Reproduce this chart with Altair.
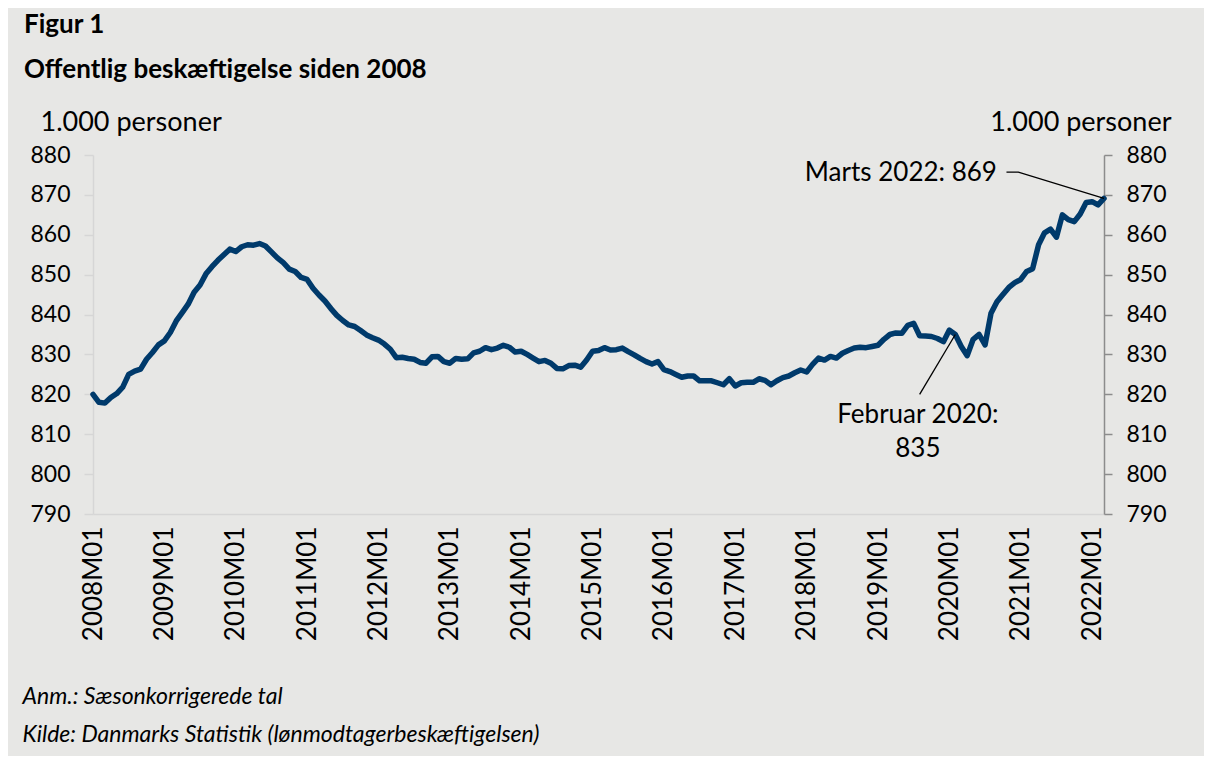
import json
import altair as alt
import pandas as pd

# ---- data (1.000 personer, seasonally adjusted, 2008M01 .. 2022M03) ----
values = [
    820.0, 818.0, 817.8, 819.2, 820.2, 821.8, 825.0, 825.8, 826.3, 828.8, 830.5, 832.4,  # 2008
    833.4, 835.5, 838.4, 840.5, 842.6, 845.6, 847.4, 850.2, 852.0, 853.6, 855.0, 856.4,  # 2009
    855.8, 857.0, 857.5, 857.4, 857.8, 857.2, 855.7, 854.2, 853.0, 851.4, 850.8, 849.3,  # 2010
    848.8, 846.6, 844.9, 843.4, 841.5, 839.8, 838.5, 837.4, 837.0, 836.0, 834.9, 834.2,  # 2011
    833.6, 832.6, 831.3, 829.2, 829.3, 829.0, 828.8, 828.0, 827.8, 829.4, 829.5, 828.2,  # 2012
    827.8, 829.0, 828.8, 828.9, 830.4, 830.8, 831.7, 831.2, 831.6, 832.3, 831.8, 830.6,  # 2013
    830.8, 830.0, 829.1, 828.2, 828.5, 827.8, 826.5, 826.4, 827.2, 827.3, 826.8, 828.6,  # 2014
    830.8, 831.0, 831.7, 831.1, 831.2, 831.6, 830.7, 829.9, 829.0, 828.2, 827.6, 828.2,  # 2015
    826.2, 825.7, 825.0, 824.3, 824.6, 824.6, 823.4, 823.4, 823.4, 822.9, 822.4, 823.9,  # 2016
    822.1, 822.9, 823.0, 823.0, 823.9, 823.5, 822.4, 823.4, 824.2, 824.6, 825.4, 826.1,  # 2017
    825.6, 827.5, 829.1, 828.6, 829.5, 829.1, 830.3, 831.0, 831.6, 831.8, 831.7, 832.0,  # 2018
    832.3, 833.8, 835.0, 835.4, 835.3, 837.3, 837.8, 834.7, 834.6, 834.5, 834.0, 833.2,  # 2019
    836.1, 835.0, 832.0, 829.7, 833.8, 835.0, 832.4, 840.3, 843.2, 845.0, 846.8, 848.0,  # 2020
    848.8, 850.8, 851.5, 857.5, 860.5, 861.4, 859.4, 865.0, 863.8, 863.3, 865.2, 868.1,  # 2021
    868.3, 867.5, 869.1,                                                                 # 2022
]
month_index = list(range(len(values)))

tick_positions = [0, 12, 24, 36, 48, 60, 72, 84, 96, 108, 120, 132, 144, 156, 168]
tick_labels = ["2008M01", "2009M01", "2010M01", "2011M01", "2012M01", "2013M01",
               "2014M01", "2015M01", "2016M01", "2017M01", "2018M01", "2019M01",
               "2020M01", "2021M01", "2022M01"]
y_ticks = [790, 800, 810, 820, 830, 840, 850, 860, 870, 880]

# annotation: "Marts 2022: 869"
mar_text = ["Marts 2022: 869"]
mar_text_pos = [(152.0, 875.5)]
mar_leader = [(153.6, 875.7), (155.6, 875.7), (170.0, 869.1)]
# annotation: "Februar 2020: 835"
feb_text = ["Februar 2020:", "835"]
feb_text_pos = [(138.7, 814.8), (138.7, 806.4)]
feb_leader = [(145.0, 835.0), (139.0, 820.0)]

df = pd.DataFrame({"i": month_index, "v": values})
mar_t = pd.DataFrame({"i": [p[0] for p in mar_text_pos], "v": [p[1] for p in mar_text_pos], "t": mar_text})
mar_l = pd.DataFrame({"i": [p[0] for p in mar_leader], "v": [p[1] for p in mar_leader], "o": list(range(len(mar_leader)))})
feb_t = pd.DataFrame({"i": [p[0] for p in feb_text_pos], "v": [p[1] for p in feb_text_pos], "t": feb_text})
feb_l = pd.DataFrame({"i": [p[0] for p in feb_leader], "v": [p[1] for p in feb_leader], "o": list(range(len(feb_leader)))})

FONT = "Lato"
BG = "#e7e7e5"
LINE = "#003a6b"

label_expr = json.dumps(tick_labels) + "[round(datum.value / 12)]"

x_scale = alt.Scale(domain=[0, len(values) - 1], nice=False, zero=False)
y_scale = alt.Scale(domain=[790, 880], nice=False, zero=False)

x_axis = alt.Axis(
    values=tick_positions, labelExpr=label_expr, labelAngle=270,
    labelFontSize=26, labelFont=FONT, labelColor="#000000", labelPadding=12,
    ticks=False, grid=False, domainColor="#d6d6d6", domainWidth=1.5,
    labelOverlap=False,
    title=["Anm.: Sæsonkorrigerede tal", "Kilde: Danmarks Statistik (lønmodtagerbeskæftigelsen)"],
    titleFont=FONT, titleFontSize=23, titleFontStyle="italic", titleFontWeight="normal",
    titleColor="#000000", titleAngle=0, titleAlign="left", titleBaseline="top",
    titleX=-71, titleY=171, titleLineHeight=38,
)
x_enc = alt.X("i:Q", scale=x_scale, axis=x_axis)

left_axis = alt.Axis(
    orient="left", values=y_ticks, grid=False,
    domainColor="#d6d6d6", domainWidth=1.5, tickColor="#d6d6d6", tickWidth=1.5, tickSize=9,
    labelFontSize=23, labelFont=FONT, labelColor="#000000", labelPadding=14,
    title="1.000 personer", titleFont=FONT, titleFontSize=27, titleFontWeight="normal",
    titleColor="#000000", titleAngle=0, titleAlign="left", titleBaseline="middle",
    titleX=-53, titleY=-33,
)
right_axis = alt.Axis(
    orient="right", values=y_ticks, grid=False,
    domainColor="#8c8c8c", domainWidth=1.5, tickColor="#8c8c8c", tickWidth=1.5, tickSize=8,
    labelFontSize=23, labelFont=FONT, labelColor="#000000", labelPadding=14,
    title="1.000 personer", titleFont=FONT, titleFontSize=27, titleFontWeight="normal",
    titleColor="#000000", titleAngle=0, titleAlign="right", titleBaseline="middle",
    titleX=67, titleY=-33,
)

main = alt.Chart(df).mark_line(color=LINE, strokeWidth=5.5, strokeJoin="round", strokeCap="round").encode(
    x=x_enc, y=alt.Y("v:Q", scale=y_scale, axis=left_axis)
)
right = alt.Chart(df).mark_line(opacity=0).encode(
    x=x_enc, y=alt.Y("v:Q", scale=y_scale, axis=right_axis)
)
mar_line = alt.Chart(mar_l).mark_line(color="#000000", strokeWidth=1.3).encode(
    x=x_enc, y=alt.Y("v:Q", scale=y_scale, axis=None), order="o:Q"
)
mar_txt = alt.Chart(mar_t).mark_text(align="right", baseline="middle", fontSize=26, font=FONT, color="#000000").encode(
    x=x_enc, y=alt.Y("v:Q", scale=y_scale, axis=None), text="t:N"
)
feb_line = alt.Chart(feb_l).mark_line(color="#000000", strokeWidth=1.3).encode(
    x=x_enc, y=alt.Y("v:Q", scale=y_scale, axis=None), order="o:Q"
)
feb_txt = alt.Chart(feb_t).mark_text(align="center", baseline="middle", fontSize=26, font=FONT, color="#000000").encode(
    x=x_enc, y=alt.Y("v:Q", scale=y_scale, axis=None), text="t:N"
)

chart = (
    alt.layer(main, right, mar_line, mar_txt, feb_line, feb_txt)
    .resolve_scale(y="independent")
    .properties(
        width=1011, height=359,
        autosize=alt.AutoSizeParams(type="none"),
        padding={"left": 85, "top": 147, "right": 100, "bottom": 242},
        background=BG,
        title=alt.TitleParams(
            text=["Figur 1", "Offentlig beskæftigelse siden 2008"],
            anchor="start", frame="group", font=FONT, fontSize=26, fontWeight="bold",
            color="#000000", lineHeight=45, dx=-69, dy=-21,
        ),
    )
    .configure_view(stroke=None)
)

chart.save("out.html", embed_options={"renderer": "svg", "actions": False})
